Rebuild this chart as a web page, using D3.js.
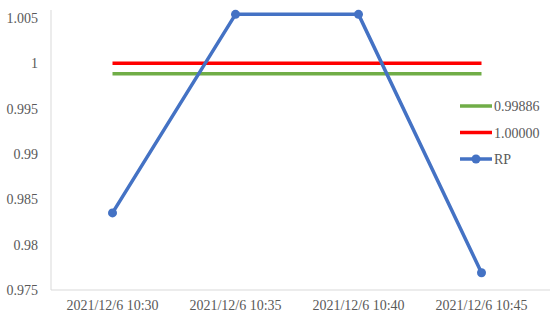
<!DOCTYPE html>
<html>
<head>
<meta charset="utf-8">
<script src="https://cdn.jsdelivr.net/npm/d3@7"></script>
<style>
body { margin: 0; background: #fff; }
text { font-family: "Liberation Serif", "Times New Roman", serif; }
</style>
</head>
<body>
<script>
// data
var times = ["2021/12/6 10:30", "2021/12/6 10:35", "2021/12/6 10:40", "2021/12/6 10:45"];
var rp = [0.9835, 1.0054, 1.0054, 0.9769];
var lineA = [0.99886, 0.99886, 0.99886, 0.99886];
var lineB = [1.0, 1.0, 1.0, 1.0];
var yTicks = [0.975, 0.98, 0.985, 0.99, 0.995, 1, 1.005];

var w = 550, h = 318;
var plotLeft = 51, plotRight = 543, plotTop = 18, plotBottom = 290;

var svg = d3.select("body").append("svg")
    .attr("width", w)
    .attr("height", h);

var x = d3.scaleBand().domain(times).range([plotLeft, plotRight]);
var y = d3.scaleLinear().domain([0.975, 1.005]).range([plotBottom, plotTop]);

// axes
var yAxis = svg.append("g")
    .attr("transform", "translate(" + plotLeft + ",0)")
    .call(d3.axisLeft(y).tickValues(yTicks).tickSize(0).tickPadding(13)
        .tickFormat(function(d) { return String(+d.toFixed(3)); }));
yAxis.select(".domain").attr("stroke", "#d9d9d9").attr("d", "M0,10V" + plotBottom);
yAxis.selectAll("text").attr("fill", "#595959").style("font-size", "14px")
    .attr("font-family", null);

var xAxis = svg.append("g")
    .attr("transform", "translate(0," + plotBottom + ")")
    .call(d3.axisBottom(x).tickSize(0).tickPadding(10));
xAxis.select(".domain").attr("stroke", "#d9d9d9").attr("d", "M" + plotLeft + ",0H" + w);
xAxis.selectAll("text").attr("fill", "#595959").style("font-size", "14px")
    .attr("font-family", null);

var cx = function(d, i) { return x(times[i]) + x.bandwidth() / 2; };
var line = d3.line().x(cx).y(function(d) { return y(d); });

var series = [
    { name: "0.99886", values: lineA, color: "#70ad47", marker: false },
    { name: "1.00000", values: lineB, color: "#ff0000", marker: false },
    { name: "RP", values: rp, color: "#4472c4", marker: true }
];

series.forEach(function(s) {
    svg.append("path")
        .attr("d", line(s.values))
        .attr("fill", "none")
        .attr("stroke", s.color)
        .attr("stroke-width", 3.5)
        .attr("stroke-linejoin", "round");
    if (s.marker) {
        svg.selectAll(".pt")
            .data(s.values)
            .enter()
            .append("circle")
            .attr("cx", cx)
            .attr("cy", function(d) { return y(d); })
            .attr("r", 4.5)
            .attr("fill", s.color);
    }
});

// legend
var legend = svg.append("g").attr("transform", "translate(460,106)");
series.forEach(function(s, i) {
    var g = legend.append("g").attr("transform", "translate(0," + (i * 26.5) + ")");
    g.append("line").attr("x1", 0).attr("x2", 32)
        .attr("stroke", s.color).attr("stroke-width", 3.5);
    if (s.marker) {
        g.append("circle").attr("cx", 16).attr("r", 4.5).attr("fill", s.color);
    }
    g.append("text").attr("x", 34).attr("y", 5)
        .attr("fill", "#595959").style("font-size", "14px")
        .text(s.name);
});
</script>
</body>
</html>
